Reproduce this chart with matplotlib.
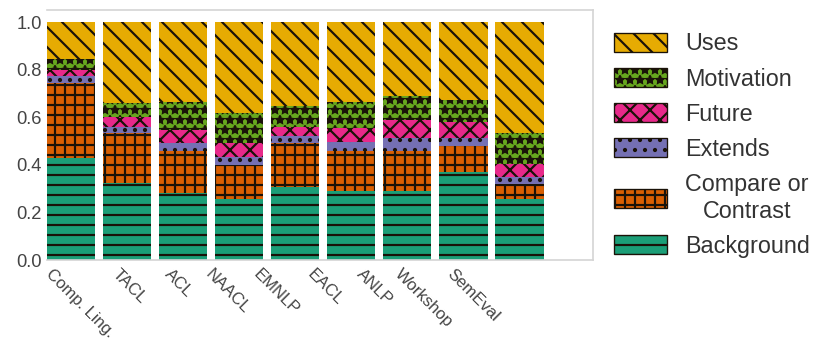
import matplotlib
matplotlib.use("Agg")
import matplotlib.pyplot as plt
import numpy as np

# Share of citation intents per venue (stacked bottom -> top)
venues = ["Comp. Ling.", "TACL", "ACL", "NAACL", "EMNLP", "EACL", "ANLP", "Workshop", "SemEval"]
background = [0.427, 0.325, 0.283, 0.255, 0.305, 0.291, 0.291, 0.371, 0.255]
compare_contrast = [0.315, 0.210, 0.176, 0.144, 0.188, 0.168, 0.168, 0.108, 0.064]
extends = [0.031, 0.025, 0.034, 0.035, 0.028, 0.038, 0.052, 0.032, 0.031]
future = [0.025, 0.040, 0.053, 0.056, 0.039, 0.056, 0.077, 0.070, 0.052]
motivation = [0.047, 0.058, 0.119, 0.129, 0.087, 0.112, 0.101, 0.091, 0.133]
uses = [0.155, 0.342, 0.335, 0.381, 0.353, 0.335, 0.311, 0.328, 0.465]
yticks = [0.0, 0.2, 0.4, 0.6, 0.8, 1.0]

series = [
    ("Background", background, "#1b9e77", "--"),
    ("Compare or\nContrast", compare_contrast, "#d95f02", "++"),
    ("Extends", extends, "#7570b3", ".."),
    ("Future", future, "#e7298a", "xx"),
    ("Motivation", motivation, "#66a61e", "**"),
    ("Uses", uses, "#e6ab02", "\\\\"),
]

plt.rcParams["font.family"] = ["Liberation Sans", "DejaVu Sans"]
plt.rcParams["hatch.linewidth"] = 1.3

fig = plt.figure(figsize=(821 / 120, 350 / 120), dpi=120)
ax = fig.add_axes([0.0572, 0.257, 0.665, 0.714])

x = np.arange(len(venues))
bottom = np.zeros(len(venues))
for label, vals, color, hatch in series:
    vals = np.asarray(vals)
    ax.bar(x, vals, width=0.86, bottom=bottom, color=color,
           edgecolor="#1a1208", linewidth=0, hatch=hatch, label=label)
    bottom += vals

ax.set_xlim(-0.43, 9.31)
ax.set_ylim(0, 1.05)
ax.set_yticks(yticks)
ax.set_yticklabels([f"{t:.1f}" for t in yticks])
# venue names sit on a slightly tighter pitch than the bars
ax.set_xticks(0.16 + 0.876 * x)
ax.set_xticklabels(venues, rotation=-45, ha="center", rotation_mode="default")
ax.tick_params(axis="both", length=0, colors="#444444")
ax.tick_params(axis="y", labelsize=11, pad=3)
ax.tick_params(axis="x", labelsize=10, pad=4)

for side in ["top", "right", "bottom"]:
    ax.spines[side].set_color("#d4d4d4")
    ax.spines[side].set_linewidth(1.0)
ax.spines["left"].set_visible(False)

# Legend outside the axes, top entry = top of the stack
leg_handles = []
for (label, vals, color, hatch) in reversed(series):
    leg_handles.append(plt.Rectangle((0, 0), 1, 1, facecolor=color, edgecolor="#1a1208",
                                     linewidth=0.8, hatch=hatch))
leg_labels = [s[0] for s in reversed(series)]
leg = ax.legend(leg_handles, leg_labels, loc="center left", bbox_to_anchor=(1.0385, 0.46),
                frameon=False, fontsize=14, handlelength=2.27, handleheight=0.86,
                labelspacing=0.52, handletextpad=0.77, borderaxespad=0, borderpad=0)
for t in leg.get_texts():
    t.set_color("#333333")
    t.set_multialignment("center")

fig.savefig("out.png", dpi=120)
